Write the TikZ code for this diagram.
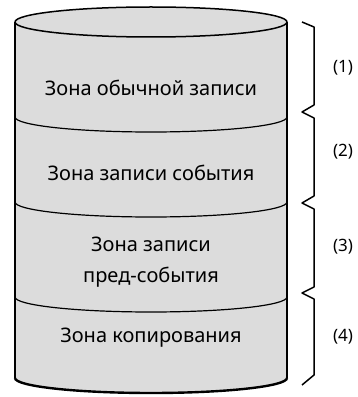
\documentclass[tikz,border=0pt]{standalone}
\usepackage{fontspec}
\setmainfont{Noto Sans}
\usetikzlibrary{positioning}
\definecolor{zonefill}{RGB}{220,220,220}
\tikzstyle{zone} = [font=\fontsize{20}{31}\selectfont, align=center, text=black]
\tikzstyle{tag} = [font=\fontsize{17}{20}\selectfont, text=black]
\tikzstyle{edge} = [line width=1.5pt, line join=round]
\tikzstyle{split} = [line width=1.2pt]

\begin{document}
\begin{tikzpicture}[x=1pt, y=1pt]
		\useasboundingbox (0,0) rectangle (357,397);
		% cylinder body
		\fill[zonefill] (15,375) -- (15,19) arc[start angle=180, end angle=360, x radius=136, y radius=15] -- (287,375) arc[start angle=0, end angle=180, x radius=136, y radius=15] -- cycle;
		\draw[edge] (151,375) ellipse [x radius=136, y radius=15];
		\draw[edge] (15,375) -- (15,19);
		\draw[edge] (287,375) -- (287,19);
		\draw[line width=2.4pt] (15,19) arc[start angle=180, end angle=360, x radius=136, y radius=15];
		\foreach \y in {280,195,100}
			\draw[split] (15,\y) arc[start angle=180, end angle=360, x radius=136, y radius=15];

		\node (normal_zone) [zone] at (151,309) {Зона обычной записи};
		\node (event_zone) [zone] at (151,224) {Зона записи события};
		\node (pre_event_zone) [zone] at (151,134.5) {Зона записи\\пред-события};
		\node (copy_zone) [zone] at (151,59) {Зона копирования};

		% braces
		\draw[edge] (302,375) -- (314,370) -- (314,292) -- (302,285) -- (314,279) -- (314,201) -- (302,194) -- (314,188) -- (314,110) -- (302,104) -- (314,98) -- (314,22) -- (302,12);

		\node (tag_1) [tag] at (343,329) {(1)};
		\node (tag_2) [tag] at (343,245) {(2)};
		\node (tag_3) [tag] at (343,150) {(3)};
		\node (tag_4) [tag] at (343,60) {(4)};
	\end{tikzpicture}
\end{document}
